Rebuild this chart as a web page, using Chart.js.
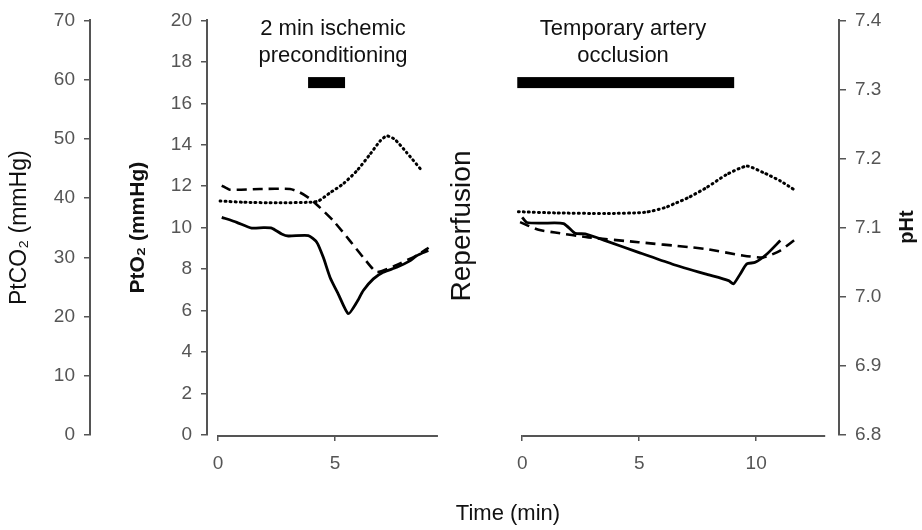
<!DOCTYPE html>
<html>
<head>
<meta charset="utf-8">
<script src="https://cdn.jsdelivr.net/npm/chart.js@4.4.1/dist/chart.umd.min.js"></script>
<style>
  html, body { margin: 0; padding: 0; background: #fff; }
  #wrap { width: 922px; height: 530px; position: relative; }
</style>
</head>
<body>
<div id="wrap"><canvas id="tissueChart"></canvas></div>
<script>
const OFFSET = 13; // right panel sits 13 min further along the shared time axis

// 2 min ischemic preconditioning panel
const prePtO2Time = [0.16, 0.8, 1.44, 1.94, 2.29, 2.72, 3.0, 3.86, 4.22, 4.5, 4.79, 5.14, 5.57, 5.93, 6.21, 6.64, 7.06, 7.64, 8.2, 8.49, 8.99];
const prePtO2 = [10.5, 10.26, 9.98, 10.0, 9.98, 9.7, 9.6, 9.62, 9.3, 8.57, 7.6, 6.8, 5.85, 6.4, 6.97, 7.53, 7.85, 8.09, 8.4, 8.65, 8.9];
const prePhTime = [0.16, 0.51, 1.79, 3.08, 3.5, 3.93, 4.36, 4.93, 5.64, 6.21, 6.78, 7.5, 8.5, 9.0];
const prePh = [7.161, 7.155, 7.156, 7.156, 7.151, 7.142, 7.129, 7.110, 7.081, 7.057, 7.036, 7.044, 7.06, 7.071];
const preCo2Time = [0.09, 1.08, 2.51, 3.93, 4.29, 4.79, 5.35, 5.93, 6.5, 6.92, 7.21, 7.56, 8.06, 8.7];
const preCo2 = [39.5, 39.3, 39.2, 39.3, 39.5, 40.9, 42.4, 44.6, 47.4, 49.6, 50.5, 49.9, 47.7, 44.7];

// Temporary artery occlusion panel
const occPtO2Time = [0, 0.2, 0.84, 1.77, 2.26, 2.69, 3.55, 4.97, 6.4, 7.82, 8.82, 9.03, 9.32, 9.6, 9.96, 10.46, 11.03];
const occPtO2 = [10.5, 10.25, 10.22, 10.2, 9.73, 9.7, 9.38, 8.81, 8.25, 7.77, 7.45, 7.29, 7.77, 8.25, 8.33, 8.73, 9.38];
const occPhTime = [-0.09, 0.7, 1.41, 2.83, 4.97, 7.11, 7.89, 9.39, 10.31, 11.03, 11.74];
const occPh = [7.108, 7.097, 7.093, 7.086, 7.079, 7.072, 7.069, 7.06, 7.057, 7.067, 7.085];
const occCo2Time = [-0.16, 1.41, 3.55, 5.26, 6.11, 6.47, 7.11, 7.89, 8.75, 9.6, 10.31, 11.03, 11.67];
const occCo2 = [37.7, 37.5, 37.4, 37.6, 38.4, 39.0, 40.1, 41.8, 44.0, 45.4, 44.3, 42.9, 41.3];

// Black bars marking the interventions (min), drawn at PtO2 = 17
const preBar = [3.85, 5.43];
const occBar = [-0.21, 9.06];
const barLevel = 17;

// Axis ticks
const preTicks = [0, 5];
const occTicks = [0, 5, 10];
const preAxisEnd = 9.4;
const occAxisEnd = 12.95;

const FONT = "'Liberation Sans', Arial, Helvetica, sans-serif";
const AXIS = '#555';
const INK = '#111';

Chart.defaults.font.family = FONT;

function pts(times, values, shift) {
  return times.map((t, i) => ({ x: t + shift, y: values[i] }));
}

const solid = { borderColor: '#000', borderWidth: 2.8, tension: 0.2, pointRadius: 0, yAxisID: 'yO2' };
const dashed = { borderColor: '#000', borderWidth: 2.6, borderDash: [10, 6], tension: 0.2, pointRadius: 0, yAxisID: 'yPH' };
const dotted = { borderColor: '#000', borderWidth: 3, borderDash: [1, 4], borderCapStyle: 'round', tension: 0.2, pointRadius: 0, yAxisID: 'yCO2' };

const datasets = [
  { label: 'PtO2 pre', data: pts(prePtO2Time, prePtO2, 0), ...solid },
  { label: 'pHt pre', data: pts(prePhTime, prePh, 0), ...dashed },
  { label: 'PtCO2 pre', data: pts(preCo2Time, preCo2, 0), ...dotted },
  { label: 'PtO2 occ', data: pts(occPtO2Time, occPtO2, OFFSET), ...solid },
  { label: 'pHt occ', data: pts(occPhTime, occPh, OFFSET), ...dashed },
  { label: 'PtCO2 occ', data: pts(occCo2Time, occCo2, OFFSET), ...dotted },
];

// broken time axis, intervention bars and free text
const overlay = {
  id: 'overlay',
  afterDatasetsDraw(chart) {
    const { ctx, chartArea, scales: { x, yO2 } } = chart;
    ctx.save();

    ctx.strokeStyle = AXIS;
    ctx.lineWidth = 2;
    const yb = chartArea.bottom + 1;
    [[0, preAxisEnd], [OFFSET, OFFSET + occAxisEnd]].forEach(([a, b]) => {
      ctx.beginPath();
      ctx.moveTo(x.getPixelForValue(a), yb);
      ctx.lineTo(x.getPixelForValue(b), yb);
      ctx.stroke();
    });

    ctx.fillStyle = '#000';
    const yc = yO2.getPixelForValue(barLevel);
    [[preBar[0], preBar[1]], [occBar[0] + OFFSET, occBar[1] + OFFSET]].forEach(([a, b]) => {
      const x0 = x.getPixelForValue(a);
      ctx.fillRect(x0, yc - 5.5, x.getPixelForValue(b) - x0, 11);
    });

    ctx.fillStyle = INK;
    ctx.textAlign = 'center';
    ctx.textBaseline = 'alphabetic';
    ctx.font = `22px ${FONT}`;
    ctx.fillText('2 min ischemic', 333, 35);
    ctx.fillText('preconditioning', 333, 62);
    ctx.fillText('Temporary artery', 623, 35);
    ctx.fillText('occlusion', 623, 62);
    ctx.fillText('Time (min)', 508, 520);

    ctx.save();
    ctx.translate(470, 226);
    ctx.rotate(-Math.PI / 2);
    ctx.font = `28px ${FONT}`;
    ctx.fillText('Reperfusion', 0, 0);
    ctx.restore();

    ctx.save();
    ctx.translate(913, 227);
    ctx.rotate(-Math.PI / 2);
    ctx.font = `bold 20px ${FONT}`;
    ctx.fillText('pHt', 0, 0);
    ctx.restore();

    ctx.restore();
  }
};

const tickFont = { size: 19 };
const axisGrid = { drawOnChartArea: false, drawTicks: true, tickLength: 6, color: AXIS, lineWidth: 1.5 };
const axisBorder = { display: true, color: AXIS, width: 2 };

const config = {
  type: 'line',
  data: { datasets },
  options: {
    responsive: true,
    maintainAspectRatio: false,
    animation: false,
    layout: { padding: { top: 19.5, left: 0, right: 0, bottom: 0 } },
    plugins: {
      legend: { display: false },
      tooltip: { enabled: false }
    },
    scales: {
      x: {
        type: 'linear',
        min: -0.47,
        max: 26.54,
        afterBuildTicks(scale) {
          scale.ticks = preTicks.concat(occTicks.map(v => v + OFFSET)).map(v => ({ value: v }));
        },
        ticks: {
          autoSkip: false,
          maxRotation: 0,
          font: tickFont,
          color: AXIS,
          padding: 11,
          callback: v => (v >= OFFSET ? v - OFFSET : v)
        },
        grid: axisGrid,
        border: { display: false },
        afterFit(scale) { scale.height = 95; }
      },
      yO2: {
        position: 'left',
        min: 0,
        max: 20,
        ticks: { stepSize: 2, font: tickFont, color: AXIS, padding: 9 },
        grid: axisGrid,
        border: axisBorder,
        title: {
          display: true,
          text: 'PtO₂ (mmHg)',
          color: INK,
          font: { size: 21, weight: 'bold' },
          padding: { top: 36 }
        },
        afterFit(scale) { scale.width = 117; }
      },
      yCO2: {
        position: 'left',
        min: 0,
        max: 70,
        ticks: { stepSize: 10, font: tickFont, color: AXIS, padding: 9 },
        grid: axisGrid,
        border: axisBorder,
        title: {
          display: true,
          text: 'PtCO₂ (mmHg)',
          color: INK,
          font: { size: 23 },
          padding: { top: 6 }
        },
        afterFit(scale) { scale.width = 90; }
      },
      yPH: {
        position: 'right',
        min: 6.8,
        max: 7.4,
        ticks: { stepSize: 0.1, font: tickFont, color: AXIS, padding: 9, callback: v => v.toFixed(1) },
        grid: { ...axisGrid, tickLength: 7 },
        border: axisBorder,
        afterFit(scale) { scale.width = 83; }
      }
    }
  },
  plugins: [overlay]
};

const ctx = document.getElementById('tissueChart').getContext('2d');
new Chart(ctx, config);
</script>
</body>
</html>
